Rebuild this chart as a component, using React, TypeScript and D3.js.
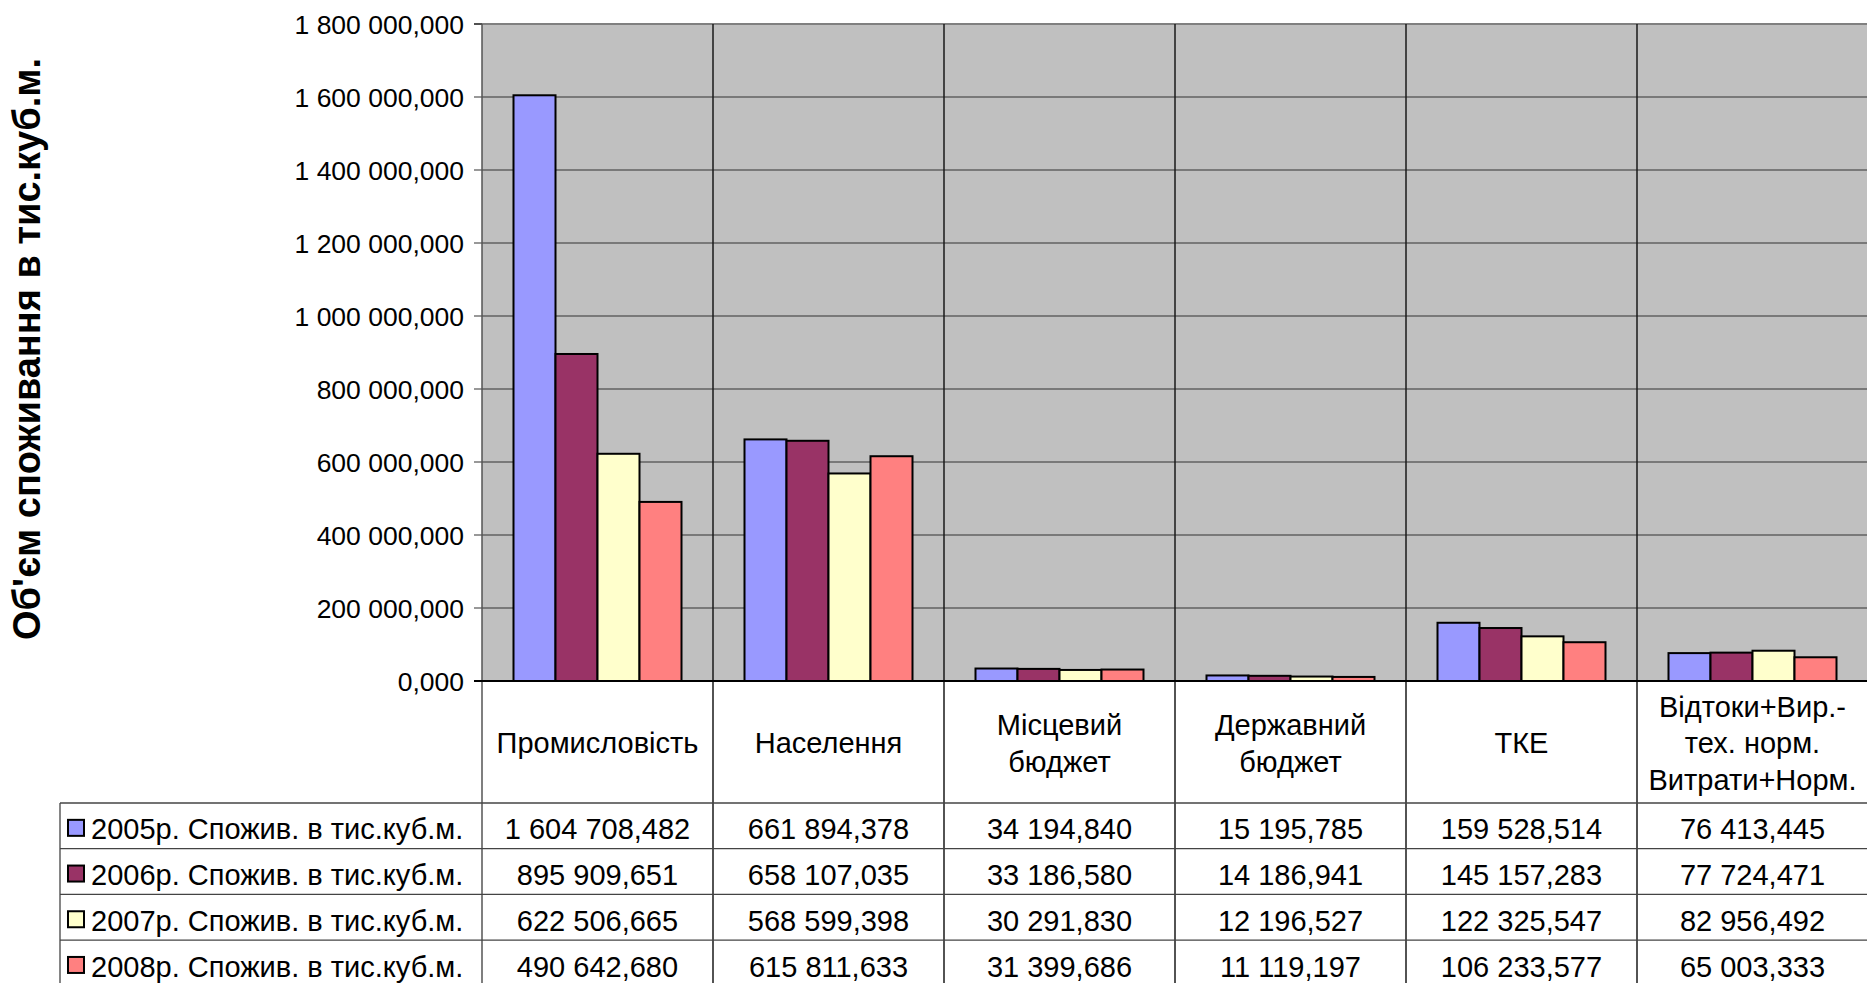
import React, { useEffect } from "react";
import * as d3 from "d3";

const categories = [
  "Промисловість",
  "Населення",
  "Місцевий бюджет",
  "Державний бюджет",
  "ТКЕ",
  "Відтоки+Вир.-тех. норм. Витрати+Норм.",
];
const categoryLines = [
  ["Промисловість"],
  ["Населення"],
  ["Місцевий", "бюджет"],
  ["Державний", "бюджет"],
  ["ТКЕ"],
  ["Відтоки+Вир.-", "тех. норм.", "Витрати+Норм."],
];
const seriesNames = [
  "2005р. Спожив. в тис.куб.м.",
  "2006р. Спожив. в тис.куб.м.",
  "2007р. Спожив. в тис.куб.м.",
  "2008р. Спожив. в тис.куб.м.",
];
const values2005 = [1604708.482, 661894.378, 34194.84, 15195.785, 159528.514, 76413.445];
const values2006 = [895909.651, 658107.035, 33186.58, 14186.941, 145157.283, 77724.471];
const values2007 = [622506.665, 568599.398, 30291.83, 12196.527, 122325.547, 82956.492];
const values2008 = [490642.68, 615811.633, 31399.686, 11119.197, 106233.577, 65003.333];
const seriesValues = [values2005, values2006, values2007, values2008];
const seriesColors = ["#9999FF", "#993366", "#FFFFCC", "#FF8080"];
const yTicks = [0, 200000, 400000, 600000, 800000, 1000000, 1200000, 1400000, 1600000, 1800000];
const yTitle = "Об'єм споживання в тис.куб.м.";

const W = 1867;
const H = 983;
const FONT = "'Liberation Sans', Arial, sans-serif";

const locale = d3.formatLocale({
  decimal: ",",
  thousands: " ",
  grouping: [3],
  currency: ["", ""],
});
const fmt = locale.format(",.3f");

export default function App() {
  useEffect(() => {
    document.body.style.margin = "0";
    document.body.style.overflow = "hidden";
  }, []);

  const plotLeft = 482;
  const plotTop = 24;
  const plotBottom = 681;
  const catW = 231;
  const plotRight = plotLeft + catW * categories.length;
  const tableLeft = 60;
  const labelRowBottom = 803;
  const rowH = 45.7;
  const tableFont = 29;

  const x = d3.scaleBand<string>().domain(categories).range([plotLeft, plotRight]);
  const xs = d3
    .scaleBand<string>()
    .domain(seriesNames)
    .range([0, x.bandwidth()])
    .paddingInner(0)
    .paddingOuter(0.75);
  const y = d3.scaleLinear().domain([0, 1800000]).range([plotBottom, plotTop]);

  const rowTop = (i: number) => labelRowBottom + i * rowH;

  return (
    <svg
      width={W}
      height={H}
      style={{ position: "absolute", left: 0, top: 0, display: "block" }}
      fontFamily={FONT}
    >
      <rect x={0} y={0} width={W} height={H} fill="#ffffff" />
      {/* plot background */}
      <rect x={plotLeft} y={plotTop} width={plotRight - plotLeft} height={plotBottom - plotTop} fill="#C0C0C0" />
      {/* horizontal gridlines */}
      {yTicks.slice(1, -1).map((t) => (
        <line key={"g" + t} x1={plotLeft - 8} x2={plotRight} y1={y(t)} y2={y(t)} stroke="#333333" strokeWidth={1.2} />
      ))}
      {/* top border */}
      <line x1={plotLeft - 8} x2={plotRight} y1={plotTop} y2={plotTop} stroke="#808080" strokeWidth={2} />
      <line x1={plotLeft - 8} x2={plotLeft} y1={plotTop} y2={plotTop} stroke="#333333" strokeWidth={1.2} />
      {/* vertical category lines */}
      {categories.map((c, i) => (
        <line
          key={"v" + i}
          x1={x(c)!}
          x2={x(c)!}
          y1={plotTop}
          y2={H}
          stroke={i === 0 ? "#555555" : "#1a1a1a"}
          strokeWidth={1.5}
        />
      ))}
      {/* bars */}
      {categories.map((c, ci) =>
        seriesNames.map((s, si) => {
          const v = seriesValues[si][ci];
          const bx = x(c)! + xs(s)!;
          return (
            <rect
              key={"b" + ci + "-" + si}
              x={bx}
              y={y(v)}
              width={xs.bandwidth()}
              height={plotBottom - y(v)}
              fill={seriesColors[si]}
              stroke="#000000"
              strokeWidth={2}
            />
          );
        })
      )}
      {/* zero line */}
      <line x1={plotLeft - 8} x2={plotRight} y1={plotBottom} y2={plotBottom} stroke="#000000" strokeWidth={2} />
      {/* y axis tick labels */}
      {yTicks.map((t) => (
        <text
          key={"t" + t}
          x={plotLeft - 18}
          y={y(t)}
          dy="0.36em"
          textAnchor="end"
          fontSize={26.5}
          fill="#000"
        >
          {fmt(t)}
        </text>
      ))}
      {/* y title */}
      <text
        transform={`translate(27, ${349}) rotate(-90)`}
        dy="0.35em"
        textAnchor="middle"
        fontSize={38}
        fontWeight="bold"
        fill="#000"
      >
        {yTitle}
      </text>
      {/* category labels */}
      {categories.map((c, ci) => {
        const lines = categoryLines[ci];
        const lh = 36.5;
        const cy = (plotBottom + labelRowBottom) / 2 + 1;
        const start = cy - ((lines.length - 1) * lh) / 2;
        return lines.map((ln, li) => (
          <text
            key={"c" + ci + "-" + li}
            x={x(c)! + x.bandwidth() / 2}
            y={start + li * lh}
            dy="0.36em"
            textAnchor="middle"
            fontSize={tableFont}
            fill="#000"
          >
            {ln}
          </text>
        ));
      })}
      {/* table row lines */}
      {seriesNames.map((s, si) => (
        <line
          key={"r" + si}
          x1={tableLeft}
          x2={plotRight}
          y1={rowTop(si)}
          y2={rowTop(si)}
          stroke="#444444"
          strokeWidth={1.3}
        />
      ))}
      <line x1={tableLeft} x2={tableLeft} y1={labelRowBottom} y2={H} stroke="#444444" strokeWidth={1.3} />
      {/* legend keys + names */}
      {seriesNames.map((s, si) => {
        const cy = rowTop(si) + rowH / 2 + 2;
        return (
          <g key={"l" + si}>
            <rect x={68} y={cy - 8} width={16} height={16} fill={seriesColors[si]} stroke="#000" strokeWidth={2} />
            <text x={91} y={cy} dy="0.4em" fontSize={tableFont} fill="#000">
              {s}
            </text>
          </g>
        );
      })}
      {/* table values */}
      {seriesNames.map((s, si) =>
        categories.map((c, ci) => (
          <text
            key={"tv" + si + "-" + ci}
            x={x(c)! + x.bandwidth() / 2}
            y={rowTop(si) + rowH / 2 + 2}
            dy="0.4em"
            textAnchor="middle"
            fontSize={tableFont}
            fill="#000"
          >
            {fmt(seriesValues[si][ci])}
          </text>
        ))
      )}
    </svg>
  );
}
